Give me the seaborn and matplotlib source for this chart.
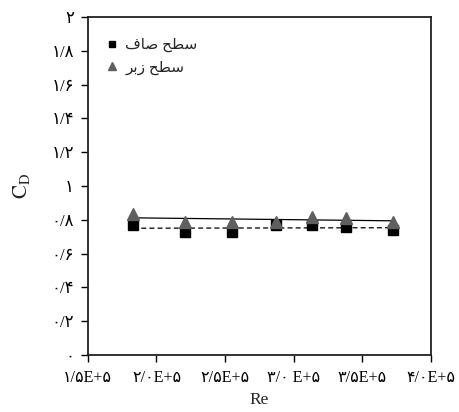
import numpy as np
import pandas as pd
import matplotlib
matplotlib.use("Agg")
import matplotlib.pyplot as plt
import seaborn as sns

# ---- data ----
re_values = [1.83e5, 2.21e5, 2.55e5, 2.87e5, 3.13e5, 3.38e5, 3.72e5]
cd_smooth = [0.769, 0.727, 0.731, 0.768, 0.769, 0.759, 0.741]
cd_rough = [0.834, 0.790, 0.790, 0.790, 0.817, 0.809, 0.789]
series_names = ["سطح صاف", "سطح زبر"]
x_ticks = [1.5e5, 2.0e5, 2.5e5, 3.0e5, 3.5e5, 4.0e5]
x_tick_labels = ["۱/۵E+۵", "۲/۰E+۵", "۲/۵E+۵", "۳/۰ E+۵", "۳/۵E+۵", "۴/۰E+۵"]
y_ticks = [0, 0.2, 0.4, 0.6, 0.8, 1.0, 1.2, 1.4, 1.6, 1.8, 2.0]
y_tick_labels = ["۰", "۰/۲", "۰/۴", "۰/۶", "۰/۸", "۱", "۱/۲", "۱/۴", "۱/۶", "۱/۸", "۲"]

# ---- simple Arabic-script shaping (matplotlib has no complex text layout) ----
FORMS = {  # isolated, final, initial, medial
    "س": ("\uFEB1", "\uFEB2", "\uFEB3", "\uFEB4"),
    "ط": ("\uFEC1", "\uFEC2", "\uFEC3", "\uFEC4"),
    "ح": ("\uFEA1", "\uFEA2", "\uFEA3", "\uFEA4"),
    "ص": ("\uFEB9", "\uFEBA", "\uFEBB", "\uFEBC"),
    "ا": ("\uFE8D", "\uFE8E", "\uFE8D", "\uFE8E"),
    "ف": ("\uFED1", "\uFED2", "\uFED3", "\uFED4"),
    "ز": ("\uFEAF", "\uFEB0", "\uFEAF", "\uFEB0"),
    "ب": ("\uFE8F", "\uFE90", "\uFE91", "\uFE92"),
    "ر": ("\uFEAD", "\uFEAE", "\uFEAD", "\uFEAE"),
}
NON_LEFT = set("ارزدذوژ")


def shape(text):
    out = []
    n = len(text)
    for i, ch in enumerate(text):
        if ch not in FORMS:
            out.append(ch)
            continue
        prev = text[i - 1] if i > 0 else " "
        nxt = text[i + 1] if i < n - 1 else " "
        join_prev = prev in FORMS and prev not in NON_LEFT
        join_next = nxt in FORMS and ch not in NON_LEFT
        iso, fin, ini, med = FORMS[ch]
        if join_prev and join_next:
            out.append(med)
        elif join_prev:
            out.append(fin)
        elif join_next:
            out.append(ini)
        else:
            out.append(iso)
    return "".join(reversed(out))


sns.set_style("ticks")
plt.rcParams["font.family"] = ["Liberation Serif", "DejaVu Sans"]
plt.rcParams["mathtext.fontset"] = "stix"

df = pd.DataFrame({
    "Re": re_values * 2,
    "CD": cd_smooth + cd_rough,
    "series": [series_names[0]] * len(re_values) + [series_names[1]] * len(re_values),
})
df_s = df[df.series == series_names[0]]
df_r = df[df.series == series_names[1]]

fig = plt.figure(figsize=(4.6, 4.12), dpi=100)
ax = fig.add_axes([0.191, 0.138, 0.746, 0.821])

sns.regplot(data=df_s, x="Re", y="CD", scatter=False, ci=None, ax=ax,
            line_kws=dict(color="black", lw=0.9, ls=(0, (4, 2.5))))
sns.regplot(data=df_r, x="Re", y="CD", scatter=False, ci=None, ax=ax,
            line_kws=dict(color="black", lw=0.9, ls="-"))

ax.plot(df_s.Re, df_s.CD, ls="none", marker="s", ms=6.5, color="black",
        label=shape(series_names[0]), zorder=3)
ax.plot(df_r.Re, df_r.CD, ls="none", marker="^", ms=8, color="#5f5f5f",
        label=shape(series_names[1]), zorder=4)

ax.set_xlim(1.5e5, 4.0e5)
ax.set_ylim(0, 2)
ax.set_xticks(x_ticks)
ax.set_xticklabels(x_tick_labels, fontsize=11.5)
ax.set_yticks(y_ticks)
ax.set_yticklabels(y_tick_labels, fontsize=12)
ax.tick_params(direction="out", length=5, width=1, colors="black")
ax.tick_params(axis="x", pad=6)
ax.tick_params(axis="y", pad=5)
for sp in ax.spines.values():
    sp.set_visible(True)
    sp.set_color("#222222")
    sp.set_linewidth(1.3)

ax.set_xlabel("Re", fontsize=12.5, labelpad=4)
ax.set_ylabel(r"$\mathrm{C_D}$", fontsize=15, labelpad=14)

ax.legend(loc="upper left", bbox_to_anchor=(0.025, 0.965), frameon=False,
          fontsize=11, markerscale=0.75, handlelength=0.8, handletextpad=0.5,
          labelspacing=0.55, borderaxespad=0.2)

fig.savefig("out.png", dpi=100)
